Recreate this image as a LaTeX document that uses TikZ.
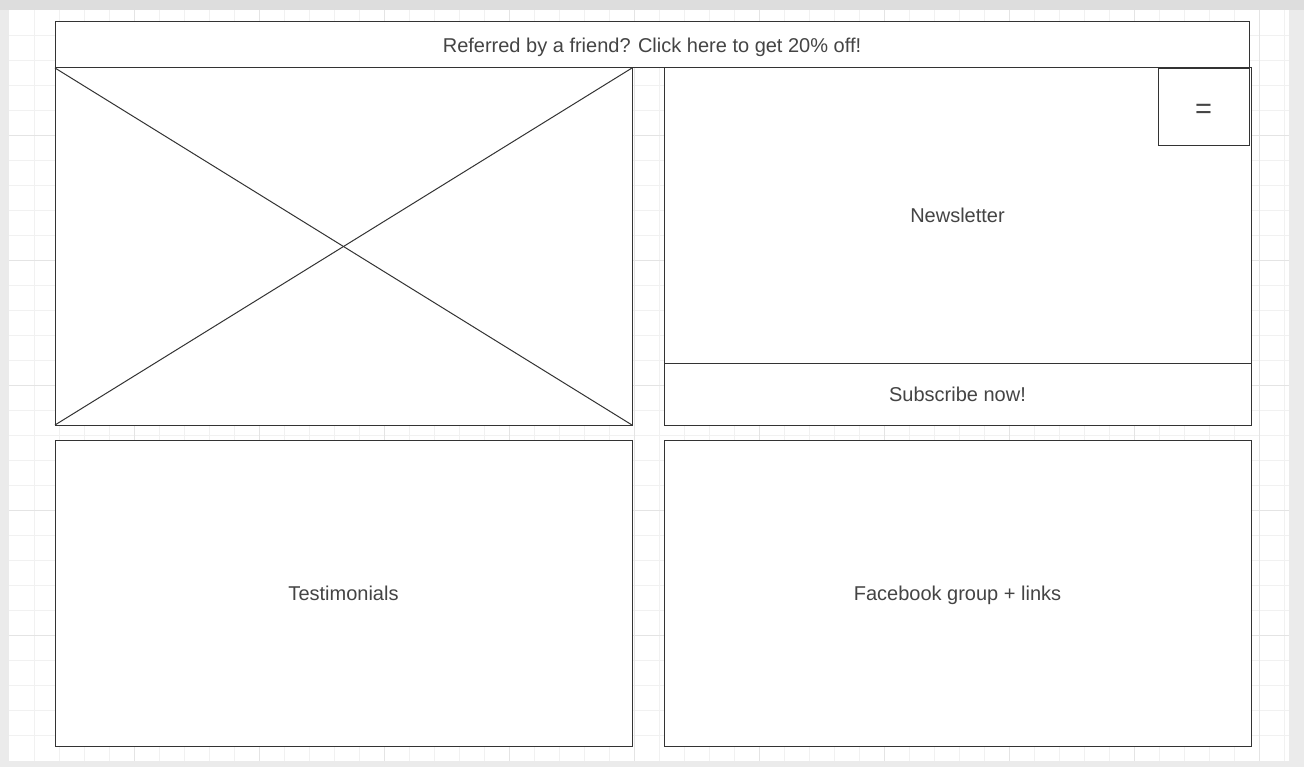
\documentclass[tikz,border=0pt]{standalone}
\usepackage{fontspec}
\setmainfont{Liberation Sans}
\definecolor{pagebg}{HTML}{EBEBEB}
\definecolor{topstrip}{HTML}{DDDDDD}
\definecolor{gridminor}{HTML}{F1F1F1}
\definecolor{gridmajor}{HTML}{E4E4E4}
\definecolor{linec}{HTML}{333333}
\definecolor{textc}{HTML}{444444}
\begin{document}
\begin{tikzpicture}[x=1pt,y=-1pt,
  frame/.style={draw=linec, fill=white, line width=1pt, inner sep=0pt, outer sep=0pt,
    anchor=north west, text=textc, font=\fontsize{20}{24}\selectfont,
    text height=16.6pt, text depth=1.6pt},
  minorline/.style={draw=gridminor, line width=1pt},
  majorline/.style={draw=gridmajor, line width=1pt},
  cross/.style={draw=linec, line width=1pt}]
  \useasboundingbox (0,0) rectangle (1304,767);
  % canvas and background
  \fill[pagebg] (0,0) rectangle (1304,767);
  \fill[topstrip] (0,0) rectangle (1304,10.5);
  \fill[white] (9,10.5) rectangle (1289,760.5);
  % grid
  \foreach \k in {1,...,51} \draw[minorline] ({9+25*\k},10.5) -- ({9+25*\k},760.5);
  \foreach \k in {1,...,29} \draw[minorline] (9,{10.5+25*\k}) -- (1289,{10.5+25*\k});
  \foreach \k in {5,10,...,50} \draw[majorline] ({9+25*\k},10.5) -- ({9+25*\k},760.5);
  \foreach \k in {5,10,...,25} \draw[majorline] (9,{10.5+25*\k}) -- (1289,{10.5+25*\k});
  % page blocks
  \node[frame, minimum width=1194pt, minimum height=46pt] (banner) at (55,22)
    {Referred by a friend? Click here to get 20\% off!};
  \node[frame, minimum width=577pt, minimum height=357pt] (hero) at (55,68) {};
  \draw[cross] (hero.north west) -- (hero.south east);
  \draw[cross] (hero.south west) -- (hero.north east);
  \node[frame, minimum width=587pt, minimum height=295pt] (newsletter) at (664,68) {Newsletter};
  \node[frame, minimum width=587pt, minimum height=62pt] (subscribe) at (664,363) {Subscribe now!};
  \node[frame, minimum width=91pt, minimum height=77pt, font=\fontsize{29}{32}\selectfont,
    text height=22.6pt, text depth=0pt] (menu) at (1158,69) {=};
  \node[frame, minimum width=577pt, minimum height=306pt] (testimonials) at (55,440) {Testimonials};
  \node[frame, minimum width=587pt, minimum height=306pt] (facebook) at (664,440) {Facebook group + links};
\end{tikzpicture}
\end{document}
